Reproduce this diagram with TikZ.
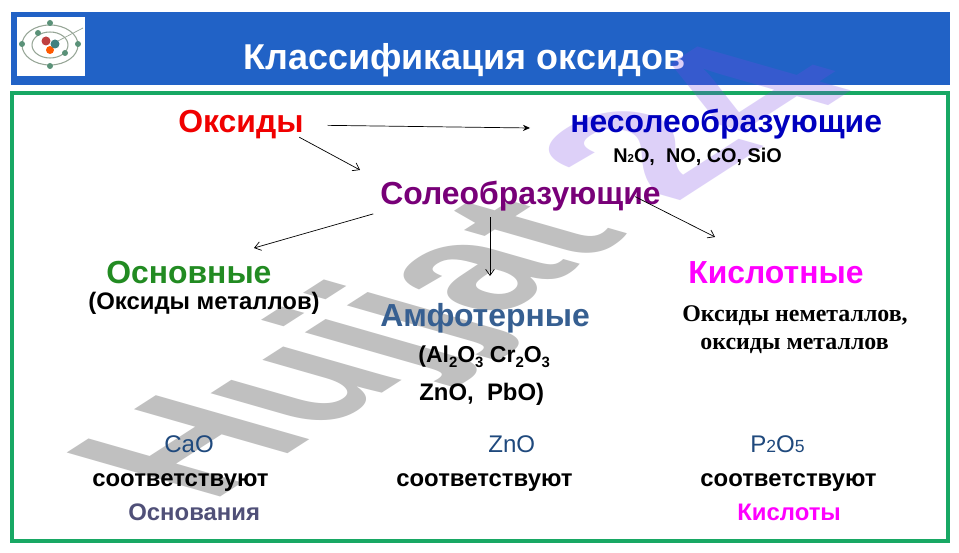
\documentclass[tikz,border=0pt]{standalone}
\usepackage{fontspec}
\setmainfont{Liberation Sans}
\newfontfamily\serifbold{Liberation Serif}
\usetikzlibrary{arrows, arrows.meta, calc, positioning}
\definecolor{headblue}{RGB}{33,98,198}
\definecolor{framegreen}{RGB}{24,168,100}
\definecolor{oxred}{RGB}{240,0,0}
\definecolor{nonsaltblue}{RGB}{0,0,190}
\definecolor{saltpurple}{RGB}{120,0,120}
\definecolor{basicgreen}{RGB}{34,139,34}
\definecolor{acidpink}{RGB}{255,0,255}
\definecolor{amphblue}{RGB}{54,95,145}
\definecolor{navy}{RGB}{31,73,125}
\definecolor{slategrey}{RGB}{80,80,120}
\definecolor{markgray}{RGB}{192,192,192}
\definecolor{marklila}{RGB}{120,70,230}
\definecolor{orbit}{RGB}{150,165,150}
\definecolor{electron}{RGB}{90,145,120}
\newcommand{\lowsub}[1]{\raisebox{-2.5pt}{\fontsize{8.5}{8}\selectfont #1}}
\tikzset{
	txt/.style={inner sep=0pt,anchor=base west},
	big/.style={txt,font=\bfseries\fontsize{18.15}{18}\selectfont},
	mid/.style={txt,font=\bfseries\fontsize{13.6}{13}\selectfont},
	plain/.style={txt,font=\fontsize{13.7}{13}\selectfont},
	link/.style={-{Straight Barb[length=3.5pt,width=5pt]},line width=0.4pt},
	electronball/.style={fill=electron,draw=none},
	wmark/.style={txt,transform shape,font=\bfseries\fontsize{10}{10}\selectfont}
}
\begin{document}
\begin{tikzpicture}[x=0.02cm,y=-0.02cm]
	\useasboundingbox (0,0) rectangle (959,553);
	\fill[white] (0,0) rectangle (959,553);
	
	%----------------------------------------------------------------
	\fill[headblue] (11,12) rectangle (950,85);
	\draw[framegreen,line width=2.4pt] (12,93) rectangle (948,541);
	\node(title) [txt,white,font=\bfseries\fontsize{20.45}{20}\selectfont] at (243,70) {Классификация оксидов};
	
	%----------------------------------------------------------------
	\fill[white] (17,17) rectangle (85,76);
	\draw[orbit,line width=0.6pt] (50,45) ellipse (28 and 20);
	\draw[orbit,line width=0.6pt] (50,45) ellipse (18 and 13);
	\draw[orbit,line width=0.4pt] (56,42) -- (83,28);
	\foreach \ex/\ey in {50/23,22/44,78/44,50/66,38/33,65/53}
	\fill[electronball] (\ex,\ey) circle (3);
	\fill[red!50!gray] (46,41) circle (4.5);
	\fill[orange!70!red] (50,50) circle (4);
	\fill[teal!50!gray] (55,44) circle (4.5);
	
	%----------------------------------------------------------------
	\begin{scope}[cm={9.9,6.4,-12.7,3.64,(671,207)}]
		\node(wnum) [wmark,marklila,opacity=0.25] at (0pt,0pt) {24};
	\end{scope}
	\begin{scope}[cm={8.63,5.55,-12.7,3.64,(207,505.5)}]
		\node(wname) [wmark,markgray] at (0pt,0pt) {Hujjat};
	\end{scope}
	
	%----------------------------------------------------------------
	\node(oxides) [big,oxred] at (178,133) {Оксиды};
	\node(nonsalt) [big,nonsaltblue] at (570,133) {несолеобразующие};
	\node(nonsaltex) [txt,font=\bfseries\fontsize{11.3}{11}\selectfont] at (613,163) {N{\fontsize{6.5}{6}\selectfont 2}O,\ \ NO, CO, SiO};
	\node(salt) [big,saltpurple] at (380,205) {Солеобразующие};
	
	\coordinate (nonsaltin) at (530,128);
	\coordinate (saltin) at (360,170);
	\coordinate (basicin) at (254,248);
	\coordinate (amphin) at (490,276);
	\coordinate (acidin) at (715,237);
	
	%----------------------------------------------------------------
	\node(basic) [big,basicgreen] at (106,284) {Основные};
	\node(basicex) [mid] at (88,310) {(Оксиды металлов)};
	\node(basicoxide) [plain,navy] at (164,452) {CaO};
	\node(basicverb) [mid] at (92,486) {соответствуют};
	\node(basicres) [mid,slategrey] at (128,520) {Основания};
	
	%----------------------------------------------------------------
	\node(amph) [big,amphblue] at (380,327) {Амфотерные};
	\node(amphex) [mid,font=\bfseries\fontsize{13.1}{13}\selectfont] at (418,363) {(Al\lowsub{2}O\lowsub{3} Cr\lowsub{2}O\lowsub{3}};
	\node(amphextwo) [mid] at (419,400) {ZnO,\ \ PbO)};
	\node(amphoxide) [plain,navy] at (488,452) {ZnO};
	\node(amphverb) [mid] at (396,486) {соответствуют};
	
	%----------------------------------------------------------------
	\node(acid) [big,acidpink] at (688,284) {Кислотные};
	\node(acidex) [txt,font=\serifbold\bfseries\fontsize{13.6}{13}\selectfont] at (682,322) {Оксиды неметаллов,};
	\node(acidextwo) [txt,font=\serifbold\bfseries\fontsize{13.6}{13}\selectfont] at (700,350) {оксиды металлов};
	\node(acidoxide) [plain,navy] at (750,452) {P{\fontsize{10}{10}\selectfont 2}O{\fontsize{10}{10}\selectfont 5}};
	\node(acidverb) [mid] at (700,486) {соответствуют};
	\node(acidres) [mid,acidpink] at (737,520) {Кислоты};
	
	%----------------------------------------------------------------
	\draw[link,-{Stealth[length=4pt,width=3.5pt]},shorten <=13.5pt] (oxides.east) -- (nonsaltin);
	\draw[link,shorten <=-3pt] (oxides.south east) -- (saltin);
	\draw[link,shorten <=4pt] (salt.south west) -- (basicin);
	\draw[link,shorten <=3pt] (salt.south -| amphin) -- (amphin);
	\draw[link] ([xshift=-0.52cm]salt.east) -- (acidin);
	
\end{tikzpicture}
\end{document}
